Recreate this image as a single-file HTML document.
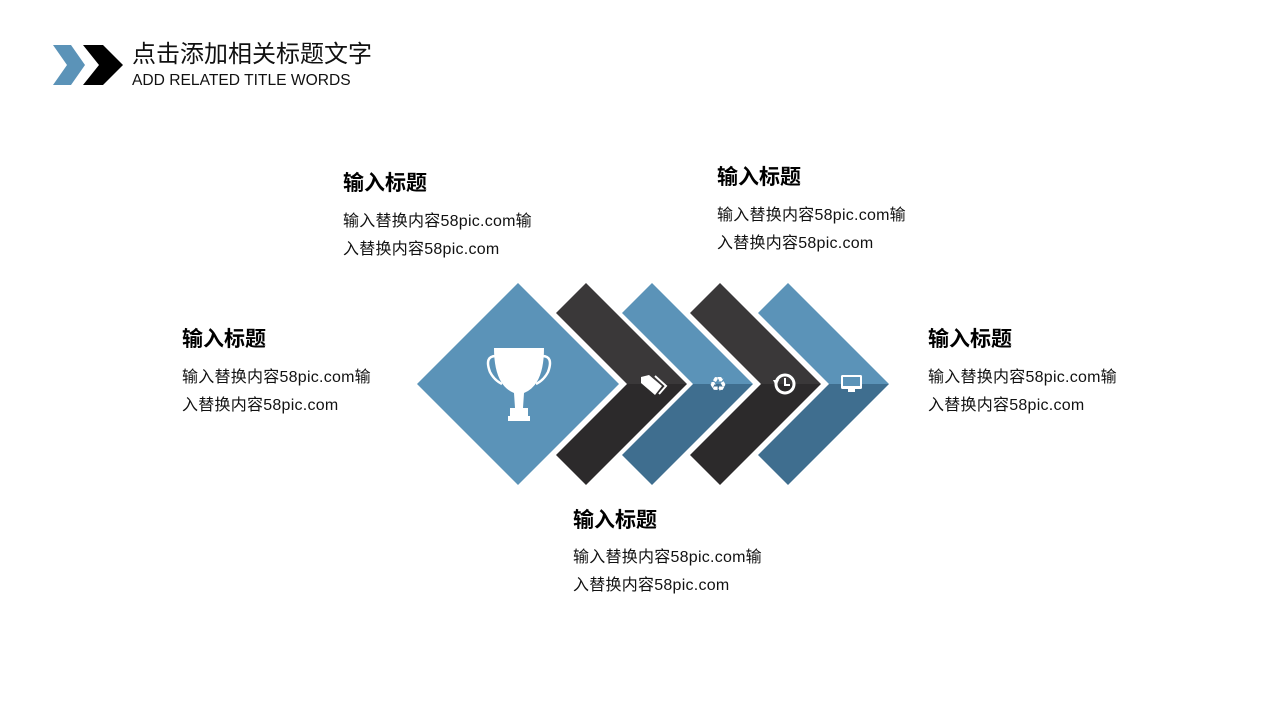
<!DOCTYPE html>
<html><head><meta charset="utf-8"><style>
body{margin:0;width:1280px;height:720px;background:#fff;position:relative;overflow:hidden;font-family:"Liberation Sans","Noto Sans CJK SC",sans-serif;color:#111}
.t{position:absolute;font-size:21px;font-weight:bold;line-height:24px;white-space:nowrap;color:#000}
.b{position:absolute;font-size:16px;letter-spacing:0.25px;line-height:28px;white-space:nowrap}
</style></head><body>
<svg width="1280" height="720" style="position:absolute;left:0;top:0">
<polygon points="53,45 71,45 85,65 71,85 53,85 67,65" fill="#5b93b8"/>
<polygon points="83,45 103,45 123,65 103,85 83,85 99,65" fill="#000"/>
<polygon points="518,283 619,384 518,485 417,384" fill="#5b93b8"/>
<polygon points="586,283 687,384 627,384 556,313" fill="#3a3839"/>
<polygon points="627,384 687,384 586,485 556,455" fill="#2c2a2b"/>
<polygon points="652,283 753,384 693,384 622,313" fill="#5b93b8"/>
<polygon points="693,384 753,384 652,485 622,455" fill="#3f6e8f"/>
<polygon points="720,283 821,384 761,384 690,313" fill="#3a3839"/>
<polygon points="761,384 821,384 720,485 690,455" fill="#2c2a2b"/>
<polygon points="788,283 889,384 829,384 758,313" fill="#5b93b8"/>
<polygon points="829,384 889,384 788,485 758,455" fill="#3f6e8f"/>
<path d="M494,348 L544,348 Q544,385 524,393 L523,408 L528,408 L528,416 L530,416 L530,421 L508,421 L508,416 L510,416 L510,408 L515,408 L514,393 Q494,385 494,348Z" fill="#fff"/>
<path d="M496,356 Q484,356 490,372 Q494,380 502,384" stroke="#fff" stroke-width="2.5" fill="none"/>
<path d="M542,356 Q554,356 548,372 Q544,380 536,384" stroke="#fff" stroke-width="2.5" fill="none"/>
<path d="M641,377 L649,375 L662,386 L655,395 L641,383Z" fill="#fff"/>
<path d="M655,376 L666,386 L659,394" stroke="#fff" stroke-width="2" fill="none"/>
<text x="718" y="391" font-size="20" fill="#fff" text-anchor="middle" font-family="DejaVu Sans">♻</text>
<circle cx="785" cy="384" r="9" stroke="#fff" stroke-width="3" fill="none"/>
<path d="M773,380 L779,380 L776,386Z" fill="#fff"/>
<path d="M785,378 L785,385 L790,385" stroke="#fff" stroke-width="2" fill="none"/>
<rect x="841" y="375" width="21" height="14" rx="1.5" fill="#fff"/>
<rect x="843" y="377" width="17" height="9" fill="#5b93b8"/>
<rect x="848" y="389" width="7" height="3" fill="#fff"/>
</svg>
<div style="position:absolute;left:132px;top:40px;font-size:24px;line-height:30px;white-space:nowrap">点击添加相关标题文字</div>
<div style="position:absolute;left:132px;top:72px;font-size:15.6px;line-height:18px;white-space:nowrap">ADD RELATED TITLE WORDS</div>

<div class="t" style="left:343px;top:172px">输入标题</div>
<div class="b" style="left:343px;top:208px">输入替换内容58pic.com输<br>入替换内容58pic.com</div>

<div class="t" style="left:717px;top:166px">输入标题</div>
<div class="b" style="left:717px;top:202px">输入替换内容58pic.com输<br>入替换内容58pic.com</div>

<div class="t" style="left:182px;top:328px">输入标题</div>
<div class="b" style="left:182px;top:364px">输入替换内容58pic.com输<br>入替换内容58pic.com</div>

<div class="t" style="left:928px;top:328px">输入标题</div>
<div class="b" style="left:928px;top:364px">输入替换内容58pic.com输<br>入替换内容58pic.com</div>

<div class="t" style="left:573px;top:509px">输入标题</div>
<div class="b" style="left:573px;top:544px">输入替换内容58pic.com输<br>入替换内容58pic.com</div>
</body></html>
